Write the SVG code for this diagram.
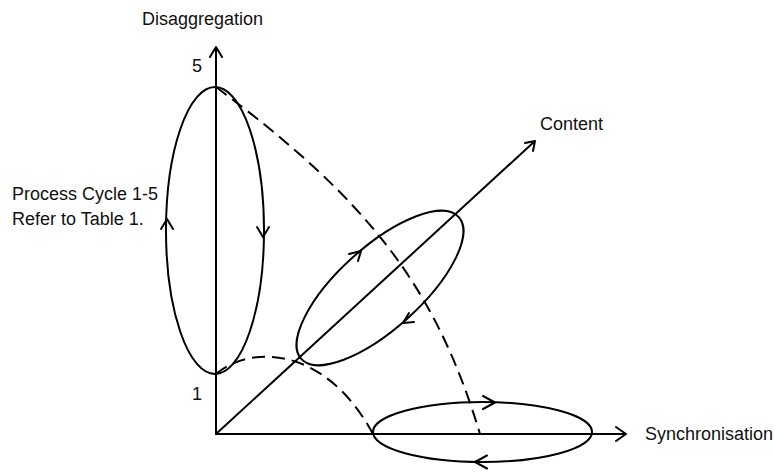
<svg xmlns="http://www.w3.org/2000/svg" width="775" height="472" viewBox="0 0 775 472">
<style>
.ln{fill:none;stroke:#000;stroke-width:2;stroke-linecap:round;stroke-linejoin:round}
.ds{fill:none;stroke:#000;stroke-width:2;stroke-dasharray:13 7}
.t{font-family:"Liberation Sans",Arial,sans-serif;font-size:18px;fill:#111}
</style>
<rect width="775" height="472" fill="#fff"/>
<g id="axes">
<path class="ln" d="M216,434 V48 M210,57 L216,47 L222,57"/>
<path class="ln" d="M216,434 H626 M616,427 L626,434 L616,441"/>
<path class="ln" d="M216,434 L535,141 M525,143 L535,141 L533,151"/>
</g>
<g id="connectors">
<path class="ds" d="M216,87 C366,199 435,284 480,434"/>
<path class="ds" d="M216,374 C250,345 325,345 373,434"/>
</g>
<g id="cycle-disaggregation">
<ellipse class="ln" cx="215" cy="230.5" rx="49" ry="143.5"/>
<path class="ln" d="M161,229 L167,219 L173,229"/>
<path class="ln" d="M257,227 L263,237 L269,227"/>
</g>
<g id="cycle-content">
<ellipse class="ln" cx="380" cy="288" rx="106" ry="41" transform="rotate(-42 380 288)"/>
<path class="ln" d="M349,254 L361,251 L358,261"/>
<path class="ln" d="M414,322 L403,323 L409,313"/>
</g>
<g id="cycle-synchronisation">
<ellipse class="ln" cx="482.5" cy="432" rx="109.5" ry="30"/>
<path class="ln" d="M483,396 L495,402.5 L483,409"/>
<path class="ln" d="M487,455.5 L475,462 L487,468.5"/>
</g>
<g id="labels">
<text class="t" x="142" y="25">Disaggregation</text>
<text class="t" x="192" y="72">5</text>
<text class="t" x="192" y="400">1</text>
<text class="t" x="540" y="130">Content</text>
<text class="t" x="645" y="440">Synchronisation</text>
<text class="t" x="12" y="200">Process Cycle 1-5</text>
<text class="t" x="12" y="225">Refer to Table 1.</text>
</g>
</svg>
